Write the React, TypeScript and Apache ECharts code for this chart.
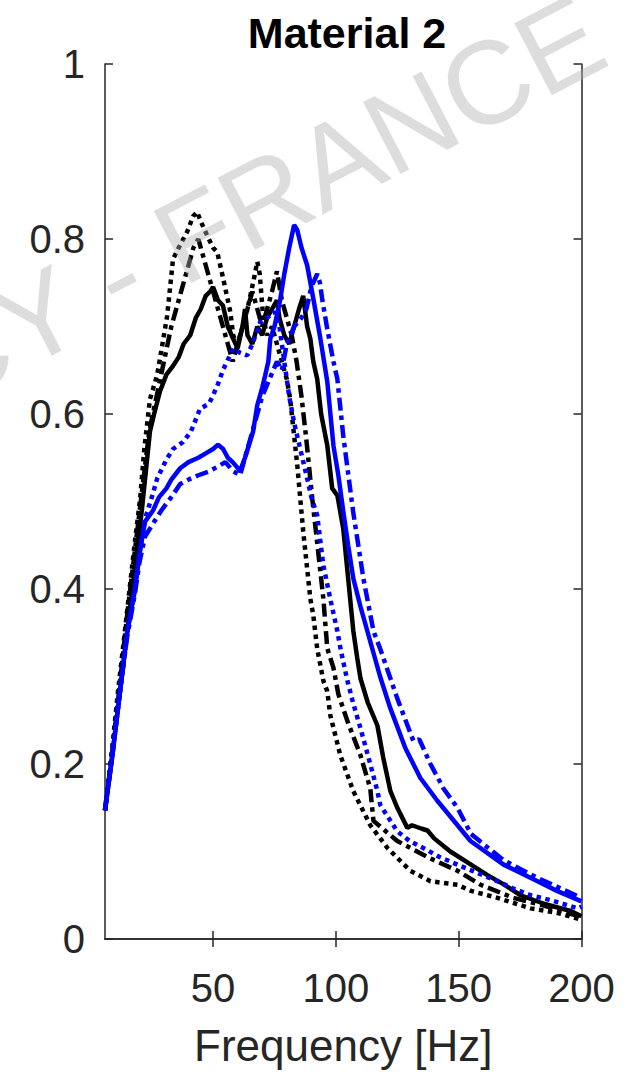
import React, { useEffect, useRef } from "react";
import * as echarts from "echarts";

// Frequency [Hz] / absorption value pairs
const blackSolid: [number, number][] = [
  [6, 0.147], [9, 0.21], [12, 0.28], [15, 0.35], [18, 0.42], [21, 0.49], [24.3, 0.58], [26, 0.6],
  [28.4, 0.626], [31, 0.645], [33.7, 0.655], [36, 0.665], [38, 0.68], [40.7, 0.69], [43, 0.71],
  [45, 0.72], [47, 0.735], [48.8, 0.74], [50, 0.745], [52, 0.73], [54, 0.724], [56, 0.7],
  [58.2, 0.686], [60, 0.675], [62, 0.7], [63, 0.72], [64, 0.69], [66, 0.68], [68, 0.7], [70, 0.69],
  [72, 0.71], [74, 0.72], [76, 0.73], [77, 0.71], [79, 0.69], [81, 0.68], [83, 0.7], [85, 0.72],
  [86.7, 0.735], [88.3, 0.7], [89.6, 0.686], [90.8, 0.66], [92.4, 0.64], [94, 0.6], [96.5, 0.564],
  [98.5, 0.515], [100.6, 0.507], [103, 0.469], [105, 0.412], [107.1, 0.352], [108.7, 0.321],
  [110, 0.298], [113, 0.27], [116.9, 0.244], [119.3, 0.207], [122.2, 0.169], [125, 0.15],
  [129.1, 0.127], [131, 0.13], [135, 0.126], [137.3, 0.124], [140, 0.115], [146.6, 0.1],
  [155, 0.085], [161.7, 0.073], [168, 0.063], [175.2, 0.05], [185, 0.04], [195.6, 0.032], [200, 0.026],
];

const blackDotted: [number, number][] = [
  [6, 0.147], [9, 0.22], [11.3, 0.283], [13.3, 0.332], [16, 0.4], [18, 0.45], [20.3, 0.503],
  [22, 0.56], [24.3, 0.617], [27.2, 0.644], [30, 0.69], [31.3, 0.712], [33.7, 0.777], [36, 0.79],
  [39.4, 0.808], [41.9, 0.826], [43.5, 0.831], [45, 0.82], [47.6, 0.804], [50, 0.79], [51.7, 0.785],
  [54.1, 0.755], [57, 0.717], [58.2, 0.69], [59.8, 0.678], [62, 0.7], [64, 0.72], [66.3, 0.75],
  [68, 0.774], [69, 0.76], [70.4, 0.71], [72, 0.69], [74, 0.7], [76, 0.68], [78, 0.66], [80, 0.64],
  [81.4, 0.617], [84.3, 0.541], [86.7, 0.466], [89.6, 0.389], [90.8, 0.37], [92.4, 0.332],
  [94.9, 0.295], [96.5, 0.283], [97.7, 0.256], [101.8, 0.21], [107.1, 0.169], [114, 0.13],
  [121, 0.104], [130.3, 0.078], [138.5, 0.066], [149.5, 0.062], [155, 0.055], [165.8, 0.047],
  [179.3, 0.035], [190, 0.03], [200, 0.022],
];

const blackDashDot: [number, number][] = [
  [6, 0.147], [9, 0.215], [12, 0.29], [15, 0.37], [18, 0.44], [21, 0.51], [24, 0.58], [27, 0.62],
  [30, 0.66], [33, 0.7], [36, 0.73], [38, 0.75], [40, 0.77], [42, 0.79], [44, 0.8], [46, 0.78],
  [48, 0.76], [50, 0.74], [52, 0.72], [54, 0.7], [56, 0.68], [58, 0.66], [60, 0.68], [62, 0.7],
  [64, 0.72], [66, 0.74], [68, 0.72], [70, 0.7], [72, 0.72], [74, 0.74], [76, 0.763], [78, 0.73],
  [80, 0.71], [82, 0.69], [84, 0.66], [86, 0.62], [88, 0.57], [90.4, 0.503], [92.5, 0.45],
  [94.9, 0.389], [96.5, 0.332], [99, 0.31], [101, 0.28], [104.7, 0.249], [110, 0.21], [114, 0.172],
  [115.3, 0.135], [125, 0.112], [138.5, 0.092], [149.5, 0.078], [158.9, 0.062], [172.3, 0.047],
  [185, 0.038], [200, 0.025],
];

const blueSolid: [number, number][] = [
  [6, 0.147], [9, 0.21], [12.1, 0.283], [15, 0.35], [18.2, 0.4], [20, 0.44], [22.3, 0.477],
  [25.6, 0.49], [28, 0.505], [31, 0.515], [33, 0.525], [36.6, 0.538], [40, 0.545], [44, 0.55],
  [47, 0.555], [50, 0.56], [52, 0.565], [54.1, 0.56], [56, 0.55], [58, 0.545], [61, 0.535],
  [63, 0.55], [66.3, 0.58], [68, 0.61], [70, 0.63], [71.2, 0.644], [72.5, 0.66], [73.3, 0.686],
  [75, 0.7], [77.3, 0.73], [79, 0.76], [81, 0.79], [83, 0.816], [84.3, 0.81], [86, 0.79],
  [88.3, 0.77], [90.8, 0.732], [93.7, 0.686], [96.5, 0.637], [99, 0.564], [101, 0.53], [103, 0.489],
  [105, 0.45], [107.1, 0.412], [110, 0.38], [112.8, 0.352], [115, 0.33], [118, 0.3], [122, 0.265],
  [128.3, 0.218], [134.4, 0.184], [141.3, 0.158], [146.6, 0.14], [154.8, 0.112], [168.3, 0.085],
  [182.1, 0.066], [190, 0.055], [200, 0.043],
];

const blueDotted: [number, number][] = [
  [6, 0.147], [9, 0.215], [12.1, 0.283], [15, 0.35], [18.2, 0.4], [20.3, 0.445], [22.3, 0.48],
  [25.6, 0.51], [27.2, 0.526], [31, 0.548], [33.7, 0.56], [37.8, 0.568], [41, 0.58], [44.7, 0.606],
  [48.4, 0.612], [51.7, 0.632], [54, 0.65], [58.2, 0.675], [61, 0.67], [63.9, 0.667], [66, 0.68],
  [69.2, 0.705], [72, 0.71], [75, 0.717], [77, 0.7], [79, 0.66], [81, 0.62], [83, 0.59],
  [85.5, 0.56], [88, 0.53], [90, 0.505], [92.4, 0.484], [94.9, 0.427], [97.7, 0.389],
  [100.6, 0.352], [102, 0.33], [104.7, 0.295], [107, 0.27], [110, 0.241], [114, 0.2],
  [116.9, 0.169], [118.1, 0.153], [125, 0.123], [130, 0.112], [135.6, 0.104], [142, 0.094],
  [149.5, 0.085], [158, 0.075], [165.8, 0.066], [172, 0.058], [179.3, 0.05], [188, 0.044],
  [198.5, 0.035], [200, 0.037],
];

const blueDashDot: [number, number][] = [
  [6, 0.147], [9, 0.21], [12.1, 0.283], [15, 0.345], [18.2, 0.395], [20, 0.43], [22.3, 0.46],
  [25.6, 0.475], [29, 0.49], [33, 0.505], [36.6, 0.52], [40, 0.525], [44, 0.53], [48, 0.534],
  [52, 0.54], [55, 0.545], [58, 0.535], [61, 0.53], [63, 0.55], [66, 0.58], [68, 0.6], [70, 0.62],
  [73, 0.64], [76, 0.66], [78, 0.65], [80, 0.68], [83, 0.7], [86, 0.71], [88, 0.72], [90, 0.745],
  [92.4, 0.76], [93.5, 0.75], [94.5, 0.73], [96.5, 0.697], [99, 0.66], [100.6, 0.64], [103, 0.575],
  [107, 0.489], [111.2, 0.412], [115.3, 0.352], [118, 0.332], [125, 0.275], [131.6, 0.226],
  [134, 0.228], [138.5, 0.2], [143.8, 0.172], [149.5, 0.15], [155, 0.12], [168.3, 0.09],
  [182, 0.07], [200, 0.047],
];

const xTicks = [50, 100, 150, 200];
const titleText = "Material 2";
const xName = "Frequency [Hz]";
const watermark = "CY - FRANCE";

const FONT = "Arial, 'Liberation Sans', Helvetica, sans-serif";
const AXIS_COLOR = "#262626";

export default function App() {
  const ref = useRef<HTMLDivElement>(null);

  useEffect(() => {
    if (!ref.current) return;
    const chart = echarts.init(ref.current, undefined, { renderer: "svg" });
    const axisLine = { show: true, lineStyle: { color: AXIS_COLOR, width: 1.5 } };
    const tick = { show: true, inside: true, length: 8, lineStyle: { color: AXIS_COLOR, width: 1.5 } };
    const mk = (name: string, data: [number, number][], color: string, type: any) => ({
      name,
      type: "line",
      data,
      showSymbol: false,
      symbol: "none",
      xAxisIndex: 0,
      yAxisIndex: 0,
      lineStyle: { color, width: 4.5, type, cap: "butt" },
      z: 3,
    });
    chart.setOption({
      animation: false,
      backgroundColor: "#ffffff",
      title: {
        text: titleText,
        left: 342,
        top: 6,
        textAlign: "center",
        textStyle: { fontFamily: FONT, fontSize: 43, fontWeight: "bold", color: "#000000" },
      },
      grid: { left: 105, right: 59.5, top: 64, bottom: 130, containLabel: false },
      xAxis: [
        {
          type: "value",
          min: 6,
          max: 200,
          position: "bottom",
          axisLine,
          axisTick: { ...tick, customValues: xTicks },
          axisLabel: {
            customValues: xTicks,
            fontSize: 40,
            fontFamily: FONT,
            color: AXIS_COLOR,
            margin: 29,
          },
          splitLine: { show: false },
          name: xName,
          nameLocation: "middle",
          nameGap: 84,
          nameTextStyle: { fontSize: 44, fontFamily: FONT, color: AXIS_COLOR },
        },
        {
          type: "value",
          min: 6,
          max: 200,
          position: "top",
          axisLine,
          axisTick: { ...tick, customValues: xTicks },
          axisLabel: { show: false },
          splitLine: { show: false },
        },
      ],
      yAxis: [
        {
          type: "value",
          min: 0,
          max: 1,
          interval: 0.2,
          position: "left",
          axisLine,
          axisTick: tick,
          axisLabel: { fontSize: 40, fontFamily: FONT, color: AXIS_COLOR, margin: 20 },
          splitLine: { show: false },
        },
        {
          type: "value",
          min: 0,
          max: 1,
          interval: 0.2,
          position: "right",
          axisLine,
          axisTick: tick,
          axisLabel: { show: false },
          splitLine: { show: false },
        },
      ],
      series: [
        mk("black dotted", blackDotted, "#000000", [4.5, 4.5]),
        mk("black dash-dot", blackDashDot, "#000000", [13, 5, 4.5, 5]),
        mk("black solid", blackSolid, "#000000", "solid"),
        mk("blue dotted", blueDotted, "#0000ff", [4.5, 4.5]),
        mk("blue dash-dot", blueDashDot, "#0000ff", [13, 5, 4.5, 5]),
        mk("blue solid", blueSolid, "#0000ff", "solid"),
      ],
      graphic: [
        {
          type: "text",
          x: -100,
          y: 322,
          rotation: (27.5 * Math.PI) / 180,
          z: 100,
          silent: true,
          style: {
            text: watermark,
            fontSize: 118,
            fontFamily: FONT,
            fill: "rgba(175,175,175,0.42)",
            textAlign: "left",
            textVerticalAlign: "top",
          },
        },
      ],
    });
    return () => chart.dispose();
  }, []);

  return (
    <div
      ref={ref}
      style={{ position: "absolute", left: 0, top: 0, width: 641, height: 1072, background: "#fff" }}
    />
  );
}
